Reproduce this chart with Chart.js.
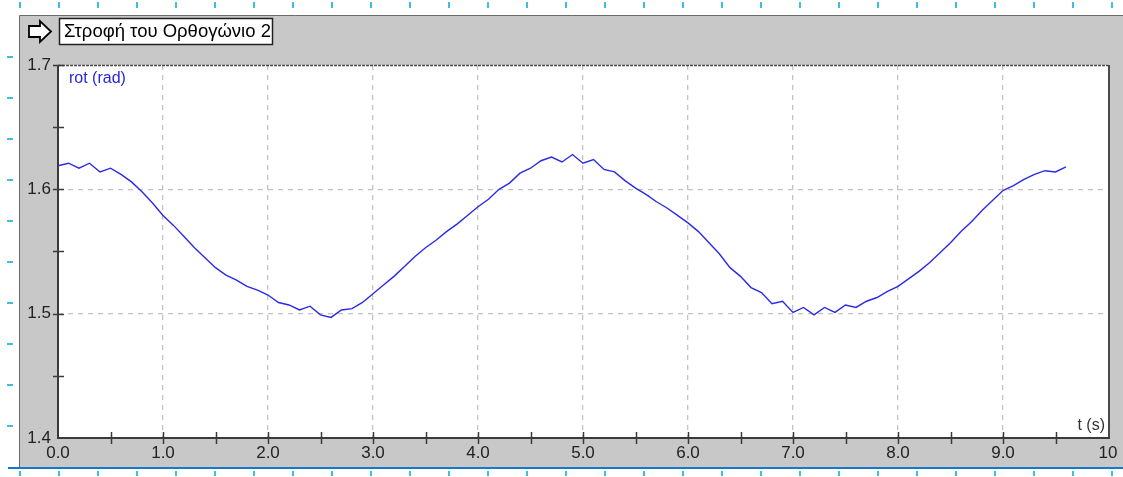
<!DOCTYPE html>
<html>
<head>
<meta charset="utf-8">
<script src="https://cdn.jsdelivr.net/npm/chart.js@4/dist/chart.umd.min.js"></script>
<style>
  html, body { margin: 0; padding: 0; background: #fff; }
  #wrap { width: 1123px; height: 477px; position: relative; }
</style>
</head>
<body>
<div id="wrap"><canvas id="chart-rot"></canvas></div>
<script>
  const chartTitle = "Στροφή του Ορθογώνιο 2";
  const seriesLabel = "rot (rad)";
  const xAxisLabel = "t (s)";
  const xTicks = [0, 1, 2, 3, 4, 5, 6, 7, 8, 9, 10];
  const yTicks = [1.4, 1.5, 1.6, 1.7];

  const times = [
    0.0, 0.1, 0.2, 0.3, 0.4, 0.5, 0.6, 0.7, 0.8, 0.9,
    1.0, 1.1, 1.2, 1.3, 1.4, 1.5, 1.6, 1.7, 1.8, 1.9,
    2.0, 2.1, 2.2, 2.3, 2.4, 2.5, 2.6, 2.7, 2.8, 2.9,
    3.0, 3.1, 3.2, 3.3, 3.4, 3.5, 3.6, 3.7, 3.8, 3.9,
    4.0, 4.1, 4.2, 4.3, 4.4, 4.5, 4.6, 4.7, 4.8, 4.9,
    5.0, 5.1, 5.2, 5.3, 5.4, 5.5, 5.6, 5.7, 5.8, 5.9,
    6.0, 6.1, 6.2, 6.3, 6.4, 6.5, 6.6, 6.7, 6.8, 6.9,
    7.0, 7.1, 7.2, 7.3, 7.4, 7.5, 7.6, 7.7, 7.8, 7.9,
    8.0, 8.1, 8.2, 8.3, 8.4, 8.5, 8.6, 8.7, 8.8, 8.9,
    9.0, 9.1, 9.2, 9.3, 9.4, 9.5, 9.6
  ];
  const rot = [
    1.619, 1.621, 1.617, 1.621, 1.614, 1.617, 1.612, 1.606, 1.598, 1.589,
    1.579, 1.571, 1.562, 1.553, 1.545, 1.537, 1.531, 1.527, 1.522, 1.519,
    1.515, 1.509, 1.507, 1.503, 1.506, 1.499, 1.497, 1.503, 1.504, 1.509,
    1.516, 1.523, 1.530, 1.538, 1.546, 1.553, 1.559, 1.566, 1.572, 1.579,
    1.586, 1.592, 1.600, 1.605, 1.613, 1.617, 1.623, 1.626, 1.622, 1.628,
    1.621, 1.624, 1.616, 1.614, 1.607, 1.601, 1.596, 1.590, 1.585, 1.579,
    1.573, 1.566, 1.557, 1.548, 1.537, 1.530, 1.521, 1.517, 1.508, 1.510,
    1.501, 1.505, 1.499, 1.505, 1.501, 1.507, 1.505, 1.510, 1.513, 1.518,
    1.522, 1.528, 1.534, 1.541, 1.549, 1.557, 1.566, 1.574, 1.583, 1.591,
    1.599, 1.603, 1.608, 1.612, 1.615, 1.614, 1.618
  ];

  const FONT = "'Liberation Sans', Arial, sans-serif";

  // panel, title box and frame around the plot
  const framePlugin = {
    id: "frame",
    beforeDraw(chart) {
      const c = chart.ctx;
      const a = chart.chartArea;
      c.save();
      c.fillStyle = "#ffffff";
      c.fillRect(0, 0, chart.width, chart.height);

      // cyan marks round the edge
      c.strokeStyle = "#3cc0e0";
      c.lineWidth = 2;
      for (let x = 20; x < chart.width; x += 39) {
        c.beginPath(); c.moveTo(x, 2); c.lineTo(x, 8); c.stroke();
        c.beginPath(); c.moveTo(x, 471); c.lineTo(x, 476); c.stroke();
      }
      for (let y = 57; y < 460; y += 41) {
        c.beginPath(); c.moveTo(7, y); c.lineTo(13, y); c.stroke();
      }

      // gray panel
      c.fillStyle = "#c8c8c8";
      c.fillRect(20, 15, chart.width - 20, 452);
      c.strokeStyle = "#6a6a6a";
      c.lineWidth = 1;
      c.beginPath();
      c.moveTo(19.5, 467); c.lineTo(19.5, 15.5); c.lineTo(chart.width, 15.5);
      c.stroke();
      c.strokeStyle = "#1878c8";
      c.lineWidth = 2;
      c.beginPath(); c.moveTo(8, 468); c.lineTo(chart.width, 468); c.stroke();

      // plot area
      c.fillStyle = "#ffffff";
      c.fillRect(a.left, a.top, a.right - a.left, a.bottom - a.top);

      // title arrow + box
      c.strokeStyle = "#000";
      c.lineWidth = 1.8;
      c.beginPath();
      c.moveTo(29, 26); c.lineTo(40, 26); c.lineTo(40, 21); c.lineTo(51, 31.5);
      c.lineTo(40, 42); c.lineTo(40, 37); c.lineTo(29, 37); c.closePath();
      c.fillStyle = "#fff"; c.fill(); c.stroke();
      c.fillStyle = "#fff";
      c.fillRect(59, 18, 214, 27);
      c.strokeStyle = "#202020";
      c.lineWidth = 1.5;
      c.strokeRect(59.5, 18.5, 213, 26);
      c.fillStyle = "#000";
      c.font = "18.5px " + FONT;
      c.textBaseline = "middle";
      c.fillText(chartTitle, 64, 32);
      c.restore();
    },
    afterDatasetsDraw(chart) {
      const c = chart.ctx;
      const a = chart.chartArea;
      const xs = chart.scales.x;
      const ys = chart.scales.y;
      c.save();
      // border
      c.strokeStyle = "#4a4a4a";
      c.lineWidth = 1.5;
      c.setLineDash([3, 1]);
      c.beginPath();
      c.moveTo(a.left, a.top + 0.5); c.lineTo(a.right, a.top + 0.5);
      c.stroke();
      c.setLineDash([]);
      c.lineWidth = 2;
      c.strokeStyle = "#4a4a4a";
      c.beginPath();
      c.moveTo(a.right + 1, a.top); c.lineTo(a.right + 1, a.bottom);
      c.stroke();
      c.strokeStyle = "#3a3a3a";
      c.beginPath();
      c.moveTo(a.left, a.top); c.lineTo(a.left, a.bottom); c.lineTo(a.right + 2, a.bottom);
      c.stroke();

      // tick marks
      c.lineWidth = 1.5;
      for (let t = 0.5; t < 10; t += 0.5) {
        const px = Math.round(xs.getPixelForValue(t)) + 0.5;
        c.beginPath(); c.moveTo(px, a.bottom - 6); c.lineTo(px, a.bottom + 6); c.stroke();
      }
      for (let v = 1.45; v < 1.7; v += 0.05) {
        const py = Math.round(ys.getPixelForValue(v)) + 0.5;
        c.beginPath(); c.moveTo(a.left - 5, py); c.lineTo(a.left + 6, py); c.stroke();
      }
      const topY = Math.round(ys.getPixelForValue(1.7)) + 0.5;
      c.beginPath(); c.moveTo(a.left - 5, topY); c.lineTo(a.left + 6, topY); c.stroke();

      c.font = "16px " + FONT;
      c.fillStyle = "#2626d8";
      c.textBaseline = "middle";
      c.fillText(seriesLabel, a.left + 11, a.top + 14);
      c.fillStyle = "#333";
      c.textAlign = "right";
      c.fillText(xAxisLabel, a.right - 3, a.bottom - 12);
      c.restore();
    }
  };

  new Chart(document.getElementById("chart-rot"), {
    type: "line",
    data: {
      datasets: [
        {
          label: seriesLabel,
          data: times.map((t, i) => ({ x: t, y: rot[i] })),
          borderColor: "#2a2ae6",
          borderWidth: 1.4,
          pointRadius: 0,
          fill: false,
          tension: 0
        }
      ]
    },
    options: {
      responsive: true,
      maintainAspectRatio: false,
      animation: false,
      events: [],
      layout: { padding: { left: 20, top: 65, right: 15, bottom: 0 } },
      plugins: {
        legend: { display: false },
        tooltip: { enabled: false }
      },
      scales: {
        x: {
          type: "linear",
          min: 0,
          max: 10,
          afterFit(scale) { scale.height = 39; },
          afterBuildTicks(scale) { scale.ticks = xTicks.map(v => ({ value: v })); },
          border: { display: false, dash: [5, 5] },
          grid: {
            drawTicks: false,
            color: ctx => (ctx.tick && ctx.tick.value > 0 && ctx.tick.value < 10) ? "#c4c4c4" : "rgba(0,0,0,0)",
            lineWidth: 1.3
          },
          ticks: {
            padding: 5,
            maxRotation: 0,
            autoSkip: false,
            color: "#222",
            font: { family: FONT, size: 17 },
            callback: v => v === 10 ? "10" : v.toFixed(1)
          }
        },
        y: {
          type: "linear",
          min: 1.4,
          max: 1.7,
          afterFit(scale) { scale.width = 38; },
          afterBuildTicks(scale) { scale.ticks = yTicks.map(v => ({ value: v })); },
          border: { display: false, dash: [5, 5] },
          grid: {
            drawTicks: false,
            color: ctx => (ctx.tick && ctx.tick.value > 1.41 && ctx.tick.value < 1.69) ? "#c4c4c4" : "rgba(0,0,0,0)",
            lineWidth: 1.3
          },
          ticks: {
            padding: 7,
            color: "#222",
            font: { family: FONT, size: 17 },
            callback: v => v.toFixed(1)
          }
        }
      }
    },
    plugins: [framePlugin]
  });
</script>
</body>
</html>
